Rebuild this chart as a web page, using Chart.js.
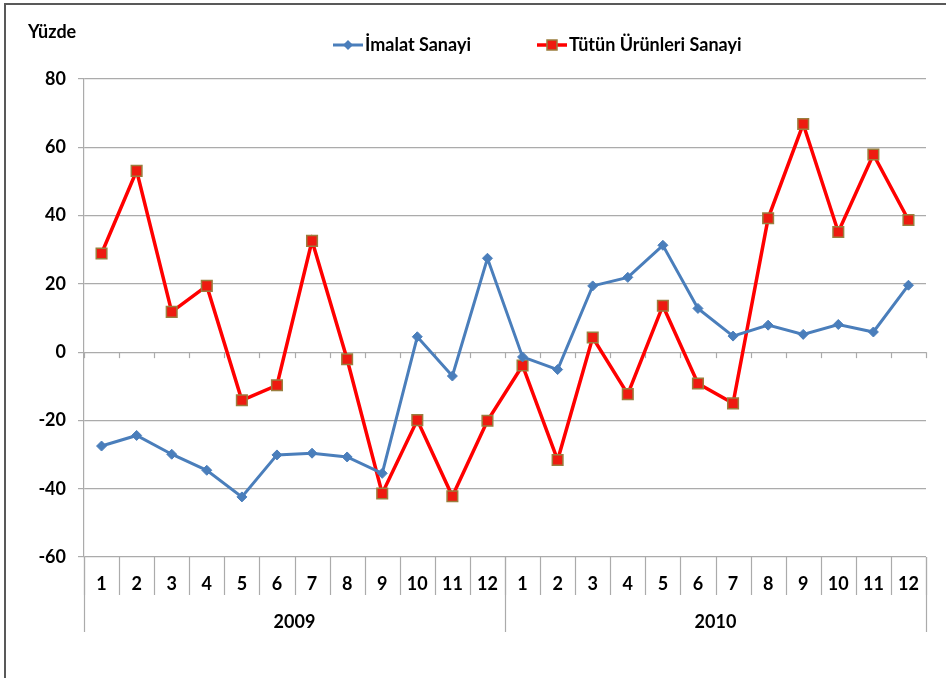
<!DOCTYPE html>
<html>
<head>
<meta charset="utf-8">
<script src="https://cdn.jsdelivr.net/npm/chart.js@4.4.0/dist/chart.umd.min.js"></script>
<style>
  html, body { margin: 0; padding: 0; background: #fff; }
  #grafik { display: block; }
</style>
</head>
<body>
<canvas id="grafik" width="946" height="678"></canvas>
<script>
/* =========================
   VERI
========================= */
const aylar = ["1","2","3","4","5","6","7","8","9","10","11","12",
               "1","2","3","4","5","6","7","8","9","10","11","12"];
const yillar = ["2009", "2010"];

const imalatSanayi = [-27.5, -24.4, -29.9, -34.6, -42.4, -30.1, -29.6, -30.7, -35.5, 4.5, -7.0, 27.5,
                      -1.4, -5.1, 19.4, 21.9, 31.3, 12.8, 4.7, 7.9, 5.2, 8.1, 5.9, 19.6];
const tutunSanayi = [28.9, 53.1, 11.8, 19.4, -14.1, -9.7, 32.6, -2.1, -41.4, -19.9, -42.2, -20.1,
                     -3.9, -31.6, 4.3, -12.3, 13.6, -9.2, -15.0, 39.2, 66.8, 35.2, 57.9, 38.7];

const yEksenMin = -60;
const yEksenMax = 80;
const yEksenAdim = 20;

const birimEtiketi = "Yüzde";
const seriAdlari = ["İmalat Sanayi", "Tütün Ürünleri Sanayi"];

/* =========================
   STIL
========================= */
const YAZI = "Lato, 'Open Sans', sans-serif";
const IZGARA = "#ababab";
const MAVI = "#4a7ebb";
const KIRMIZI = "#ff0000";
const KENAR = "#9a7e3e";

/* =========================
   EKSEN KUTULARI + LEJANT
========================= */
const cizimEklentisi = {
  id: "eksenKutulari",
  beforeDatasetsDraw(chart) {
    const ctx = chart.ctx;
    const x = chart.scales.x;
    const yil = chart.scales.yil;
    const y = chart.scales.y;
    const sifir = y.getPixelForValue(0);
    const alt = y.bottom;

    ctx.save();
    ctx.strokeStyle = IZGARA;
    ctx.lineWidth = 1.2;

    // sifir cizgisi uzerindeki kucuk isaretler
    for (let i = 0; i <= aylar.length; i++) {
      const px = Math.round(x.getPixelForValue(i - 0.5)) + 0.5;
      ctx.beginPath();
      ctx.moveTo(px, sifir);
      ctx.lineTo(px, sifir + 6);
      ctx.stroke();
    }

    // ay kutularinin ayraclari
    for (let i = 0; i <= aylar.length; i++) {
      const px = Math.round(x.getPixelForValue(i - 0.5)) + 0.5;
      ctx.beginPath();
      ctx.moveTo(px, alt);
      ctx.lineTo(px, x.bottom);
      ctx.stroke();
    }

    // yil ayraclari
    for (let i = 0; i <= yillar.length; i++) {
      const px = Math.round(yil.getPixelForValue(i - 0.5)) + 0.5;
      ctx.beginPath();
      ctx.moveTo(px, alt);
      ctx.lineTo(px, yil.bottom);
      ctx.stroke();
    }
    ctx.restore();
  },
  afterDraw(chart) {
    const ctx = chart.ctx;
    ctx.save();

    // dis cerceve
    ctx.strokeStyle = "#595959";
    ctx.lineWidth = 2;
    ctx.beginPath();
    ctx.moveTo(5, 678);
    ctx.lineTo(5, 4);
    ctx.lineTo(946, 4);
    ctx.stroke();

    // birim
    ctx.fillStyle = "#000";
    ctx.font = "bold 18px " + YAZI;
    ctx.textBaseline = "middle";
    ctx.textAlign = "left";
    ctx.fillText(birimEtiketi, 28, 32);

    // lejant
    const baslangic = [333, 537];
    const ly = 45;
    chart.data.datasets.forEach((ds, i) => {
      const lx = baslangic[i];
      ctx.strokeStyle = ds.borderColor;
      ctx.lineWidth = ds.borderWidth;
      ctx.beginPath();
      ctx.moveTo(lx, ly);
      ctx.lineTo(lx + 30, ly);
      ctx.stroke();

      ctx.fillStyle = ds.pointBackgroundColor;
      ctx.strokeStyle = ds.pointBorderColor;
      ctx.lineWidth = ds.pointBorderWidth;
      const mx = lx + 15;
      if (ds.pointStyle === "rect") {
        ctx.fillRect(mx - 5, ly - 5, 10, 10);
        ctx.strokeRect(mx - 5, ly - 5, 10, 10);
      } else {
        ctx.beginPath();
        ctx.moveTo(mx - 5, ly);
        ctx.lineTo(mx, ly - 5);
        ctx.lineTo(mx + 5, ly);
        ctx.lineTo(mx, ly + 5);
        ctx.closePath();
        ctx.fill();
      }

      ctx.fillStyle = "#000";
      ctx.font = "bold 18px " + YAZI;
      ctx.textBaseline = "middle";
      ctx.fillText(ds.label, lx + 32, ly);
    });
    ctx.restore();
  }
};

/* =========================
   GRAFIK
========================= */
const tikYazisi = { family: YAZI, size: 18, weight: "bold" };

new Chart(document.getElementById("grafik"), {
  type: "line",
  data: {
    labels: aylar,
    datasets: [
      {
        label: seriAdlari[0],
        data: imalatSanayi,
        borderColor: MAVI,
        borderWidth: 3,
        pointStyle: "rectRot",
        pointRadius: 5,
        pointBackgroundColor: MAVI,
        pointBorderColor: MAVI,
        pointBorderWidth: 1,
        tension: 0
      },
      {
        label: seriAdlari[1],
        data: tutunSanayi,
        borderColor: KIRMIZI,
        borderWidth: 3.5,
        pointStyle: "rect",
        pointRadius: 7.5,
        pointBackgroundColor: "#ee1a10",
        pointBorderColor: KENAR,
        pointBorderWidth: 1.5,
        tension: 0
      }
    ]
  },
  options: {
    responsive: false,
    animation: false,
    devicePixelRatio: 1,
    layout: { padding: { left: 6, right: 20, top: 79, bottom: 46 } },
    plugins: {
      legend: { display: false },
      title: { display: false },
      tooltip: { enabled: false }
    },
    scales: {
      x: {
        position: "bottom",
        weight: 0,
        offset: true,
        grid: { display: false },
        border: { display: false },
        ticks: { color: "#000", font: tikYazisi, padding: 8, maxRotation: 0, autoSkip: false },
        afterFit: s => { s.height = 38; }
      },
      yil: {
        type: "category",
        labels: yillar,
        position: "bottom",
        weight: 1,
        offset: true,
        grid: { display: false },
        border: { display: false },
        ticks: { color: "#000", font: tikYazisi, padding: 8, maxRotation: 0 },
        afterFit: s => { s.height = 37; }
      },
      y: {
        min: yEksenMin,
        max: yEksenMax,
        ticks: { stepSize: yEksenAdim, color: "#000", font: tikYazisi, padding: 12 },
        grid: { color: IZGARA, lineWidth: 1.2, tickLength: 6 },
        border: { display: true, color: IZGARA, width: 1.2 },
        afterFit: s => { s.width = 78; }
      }
    }
  },
  plugins: [cizimEklentisi]
});
</script>
</body>
</html>
